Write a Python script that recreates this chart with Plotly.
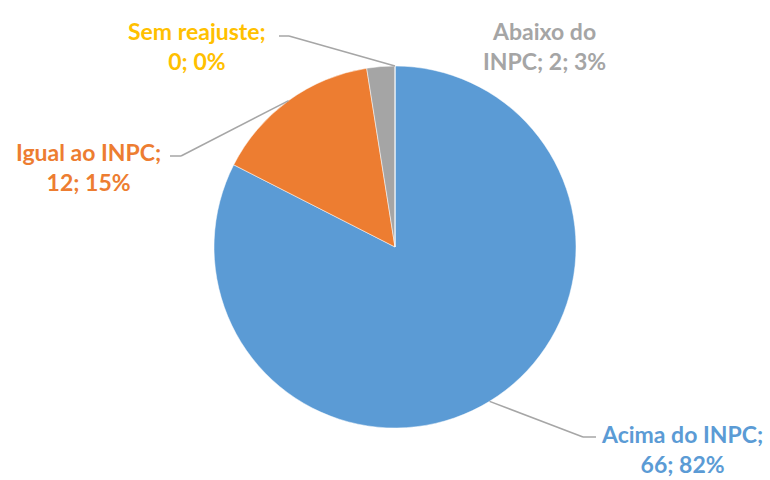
import math
import plotly.graph_objects as go

# Data
labels = ["Acima do INPC", "Igual ao INPC", "Abaixo do INPC", "Sem reajuste"]
values = [66, 12, 2, 0]
percents = [82, 15, 3, 0]
colors = ["#5B9BD5", "#ED7D31", "#A5A5A5", "#FFC000"]
# how each label is wrapped in the picture
label_texts = [
    "Acima do INPC;<br>66; 82%",
    "Igual ao INPC;<br>12; 15%",
    "Abaixo do<br>INPC; 2; 3%",
    "Sem reajuste;<br>0; 0%",
]

W, H = 770, 480
cx, cy, R = 395, 247, 181

fig = go.Figure(go.Pie(
    labels=labels, values=values, sort=False, direction="clockwise", rotation=0,
    marker=dict(colors=colors, line=dict(color="white", width=0.5)),
    textinfo="none", hoverinfo="label+value+percent", showlegend=False,
    domain=dict(x=[(cx - R) / W, (cx + R) / W], y=[1 - (cy + R) / H, 1 - (cy - R) / H]),
))

# label layout: text centre (px), elbow points (px) or None
label_layout = [
    dict(tx=682, ty=449, elbow=[(583, 437), (596, 437)]),
    dict(tx=88, ty=167, elbow=[(181, 156), (170, 156)]),
    dict(tx=544, ty=46, elbow=None),
    dict(tx=197, ty=46, elbow=[(289, 36), (279, 36)]),
]

total = sum(values)
cum = 0.0
shapes, annotations = [], []
for i, v in enumerate(values):
    mid = (cum + v / 2) / total
    cum += v
    ang = 2 * math.pi * mid
    ax_px = cx + R * math.sin(ang)
    ay_px = cy - R * math.cos(ang)
    lay = label_layout[i]
    if lay["elbow"]:
        pts = [(ax_px, ay_px)] + lay["elbow"]
        for (x0, y0), (x1, y1) in zip(pts[:-1], pts[1:]):
            shapes.append(dict(type="line", xref="paper", yref="paper",
                               x0=x0 / W, y0=1 - y0 / H, x1=x1 / W, y1=1 - y1 / H,
                               line=dict(color="#A6A6A6", width=1.5)))
    annotations.append(dict(
        x=lay["tx"] / W, y=1 - lay["ty"] / H, xref="paper", yref="paper",
        text=label_texts[i], showarrow=False, align="center",
        xanchor="center", yanchor="middle",
        font=dict(family="Lato", size=23, color=colors[i], weight="bold"),
    ))

fig.update_layout(
    width=W, height=H, margin=dict(l=0, r=0, t=0, b=0),
    paper_bgcolor="white", plot_bgcolor="white",
    shapes=shapes, annotations=annotations,
)

fig.write_html("out.html")
